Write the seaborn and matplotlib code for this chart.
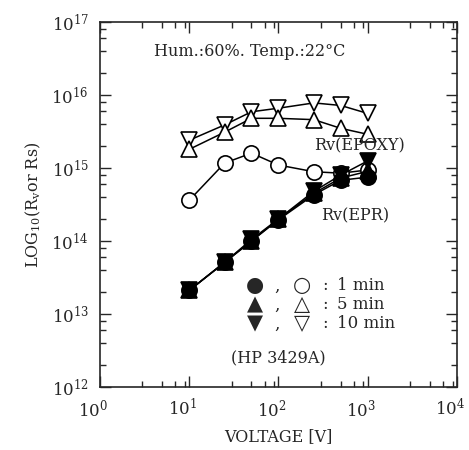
import numpy as np
import pandas as pd
import matplotlib
matplotlib.use("Agg")
import matplotlib.pyplot as plt
import matplotlib.ticker as mticker
import matplotlib.transforms as mtransforms
import seaborn as sns

# --- data ---
voltage = [10, 25, 50, 100, 250, 500, 1000]

# EPOXY (open symbols)
epoxy_1min = [3.6e14, 1.17e15, 1.6e15, 1.1e15, 8.9e14, 8.5e14, 9.4e14]
epoxy_5min = [1.8e15, 3.1e15, 4.8e15, 4.8e15, 4.6e15, 3.5e15, 2.9e15]
epoxy_10min = [2.4e15, 3.9e15, 5.9e15, 6.6e15, 7.8e15, 7.2e15, 5.6e15]

# EPR (filled symbols)
epr_1min = [2.1e13, 5.1e13, 1.0e14, 1.95e14, 4.3e14, 6.8e14, 7.5e14]
epr_5min = [2.1e13, 5.1e13, 1.0e14, 2.0e14, 4.5e14, 7.3e14, 9.0e14]
epr_10min = [2.1e13, 5.1e13, 1.05e14, 2.0e14, 4.8e14, 8.0e14, 1.25e15]

legend_filled = ["●", "▲", "▼"]
legend_open = ["○", "△", "▽"]
legend_labels = ["1 min", "5 min", "10 min"]

sns.set_style("ticks")
plt.rcParams["font.family"] = ["DejaVu Serif", "DejaVu Sans"]
plt.rcParams["mathtext.default"] = "regular"

fig = plt.figure(figsize=(4.69, 4.5), dpi=100)
ax = fig.add_axes([0.213, 0.14, 0.761, 0.811])

series = [
    (epoxy_10min, "v", "white", 11),
    (epoxy_5min, "^", "white", 11),
    (epoxy_1min, "o", "white", 11),
    (epr_1min, "o", "black", 11),
    (epr_5min, "^", "black", 11),
    (epr_10min, "v", "black", 11),
]
for vals, mk, face, ms in series:
    df = pd.DataFrame({"V": voltage, "R": vals})
    sns.lineplot(data=df, x="V", y="R", ax=ax, color="black", lw=1.1,
                 marker=mk, markersize=ms, markerfacecolor=face,
                 markeredgecolor="black", markeredgewidth=1.2)

ax.set_xscale("log")
ax.set_yscale("log")
ax.set_xlim(1, 1e4)
ax.set_ylim(1e12, 1e17)
ax.xaxis.set_major_locator(mticker.LogLocator(base=10, numticks=10))
ax.yaxis.set_major_locator(mticker.LogLocator(base=10, numticks=10))
ax.xaxis.set_minor_locator(mticker.LogLocator(base=10, subs=(3, 5, 7, 9), numticks=10))
ax.yaxis.set_minor_locator(mticker.LogLocator(base=10, subs=(2, 4, 6, 8), numticks=10))
ax.xaxis.set_minor_formatter(mticker.NullFormatter())
ax.yaxis.set_minor_formatter(mticker.NullFormatter())
ax.tick_params(which="both", direction="in", top=True, right=True, width=1.0)
ax.tick_params(which="major", length=8, labelsize=12, pad=8)
ax.tick_params(which="minor", length=4)
for s in ax.spines.values():
    s.set_linewidth(1.2)

# x tick labels sit a little left of their ticks in the original
shift = mtransforms.ScaledTranslation(-5 / 72, 0, fig.dpi_scale_trans)
for lbl in ax.get_xticklabels():
    lbl.set_transform(lbl.get_transform() + shift)

ax.set_xlabel("VOLTAGE [V]", fontsize=11.5, labelpad=6)
ax.set_ylabel("LOG$_{10}$(R$_v$or Rs)", fontsize=11.5, labelpad=6)

ax.text(0.42, 0.92, "Hum.:60%. Temp.:22°C", transform=ax.transAxes,
        fontsize=11.5, ha="center", va="center")
ax.text(0.6, 0.66, "Rv(EPOXY)", transform=ax.transAxes,
        fontsize=11.5, ha="left", va="center")
ax.text(0.62, 0.468, "Rv(EPR)", transform=ax.transAxes,
        fontsize=11.5, ha="left", va="center")
ax.text(0.5, 0.08, "(HP 3429A)", transform=ax.transAxes,
        fontsize=11.5, ha="center", va="center")

for i, (f, o, lab) in enumerate(zip(legend_filled, legend_open, legend_labels)):
    yy = 0.277 - i * 0.052
    ax.text(0.434, yy, f, transform=ax.transAxes, fontsize=15, ha="center", va="center")
    ax.text(0.495, yy, ",", transform=ax.transAxes, fontsize=12, ha="center", va="center")
    ax.text(0.566, yy, o, transform=ax.transAxes, fontsize=15, ha="center", va="center")
    ax.text(0.63, yy, ":", transform=ax.transAxes, fontsize=12, ha="center", va="center")
    ax.text(0.664, yy, lab, transform=ax.transAxes, fontsize=12, ha="left", va="center")

fig.savefig("out.png", dpi=100)
